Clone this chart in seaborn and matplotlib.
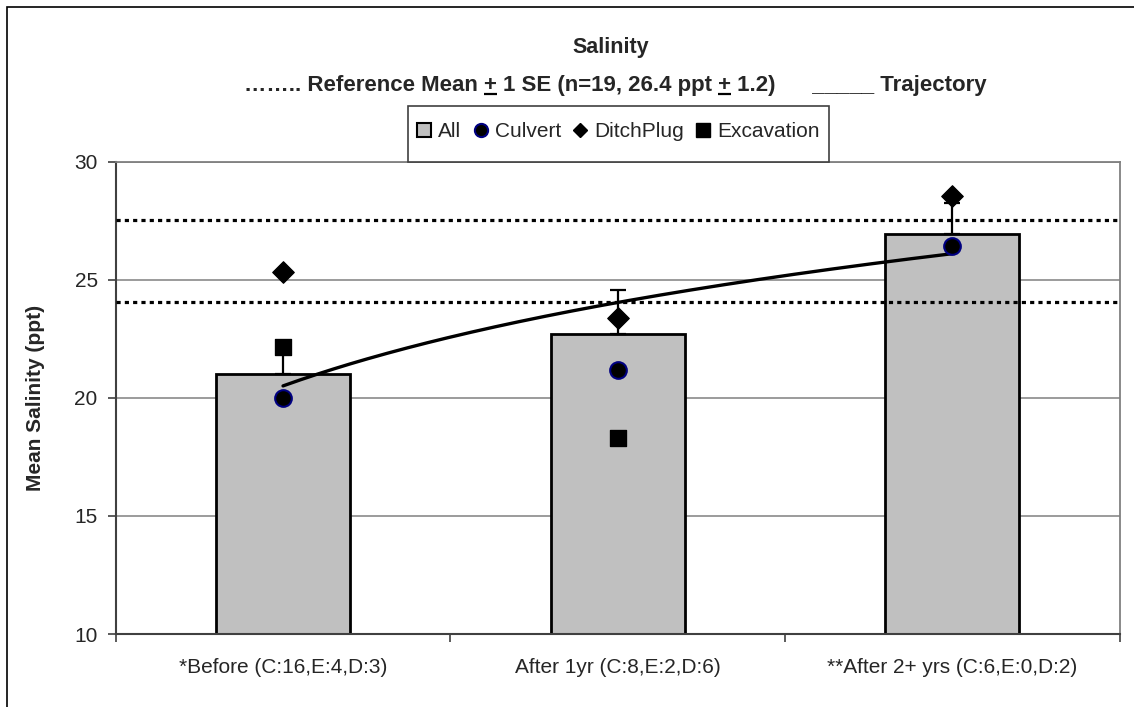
import numpy as np
import pandas as pd
import matplotlib
matplotlib.use("Agg")
import matplotlib.pyplot as plt
import seaborn as sns
from matplotlib.lines import Line2D
from matplotlib.patches import Patch, Rectangle

# ---------------- data ----------------
categories = ["*Before (C:16,E:4,D:3)", "After 1yr (C:8,E:2,D:6)", "**After 2+ yrs (C:6,E:0,D:2)"]
all_mean = [21.0, 22.7, 26.95]
all_se = [1.1, 1.85, 1.3]
culvert = [20.0, 21.2, 26.45]
ditchplug = [25.35, 23.4, 28.55]
excavation = [22.15, 18.3, np.nan]
ref_upper = 27.55
ref_lower = 24.05
y_ticks = [10, 15, 20, 25, 30]

# ---------------- style ----------------
sns.set_style("white")
plt.rcParams["font.family"] = ["Liberation Sans", "DejaVu Sans"]

W, H = 1134, 707
fig = plt.figure(figsize=(W / 100, H / 100), dpi=100)
ax = fig.add_axes([115.7 / W, 1 - 634 / H, (1119.7 - 115.7) / W, (634 - 161.7) / H])

df = pd.DataFrame({"cat": categories, "all": all_mean, "se": all_se,
                   "Culvert": culvert, "DitchPlug": ditchplug, "Excavation": excavation})
pos = np.arange(len(categories))

# bars
sns.barplot(data=df, x="cat", y="all", color="#C0C0C0", saturation=1, width=0.4,
            edgecolor="black", linewidth=2, ax=ax, zorder=2)

# upper error bars only
ax.errorbar(pos, df["all"], yerr=[np.zeros(len(pos)), df["se"]], fmt="none",
            ecolor="black", elinewidth=1.6, capsize=5.5, capthick=1.6, zorder=3)

# reference mean +/- SE lines
for yv in (ref_upper, ref_lower):
    ax.axhline(yv, color="black", lw=2.3, ls=(0, (1.3, 1.3)), dash_capstyle="butt", zorder=3.5)

# trajectory: logarithmic trendline of the bar means (as in the original chart)
coef = np.polyfit(np.log(pos + 1), df["all"], 1)
xs = np.linspace(1, len(pos), 200)
ax.plot(xs - 1, coef[0] * np.log(xs) + coef[1], color="black", lw=2.4, zorder=4)

# group markers
sns.scatterplot(x=pos, y=df["DitchPlug"], marker="D", s=120, color="black",
                edgecolor="black", ax=ax, zorder=5, legend=False)
sns.scatterplot(x=pos, y=df["Excavation"], marker="s", s=144, color="black",
                edgecolor="black", ax=ax, zorder=5, legend=False)
sns.scatterplot(x=pos, y=df["Culvert"], marker="o", s=144, color="black",
                edgecolor="#000080", linewidth=1.5, ax=ax, zorder=6, legend=False)

# axes formatting
ax.set_xlim(-0.5, len(pos) - 0.5)
ax.set_ylim(10, 30)
ax.set_yticks(y_ticks)
ax.set_yticklabels([str(t) for t in y_ticks], fontsize=15)
ax.set_xticks(pos)
ax.set_xticklabels(categories, fontsize=15)
ax.set_xticks(np.arange(-0.5, len(pos), 1.0), minor=True)
ax.tick_params(axis="x", which="major", length=0, pad=17)
ax.tick_params(axis="x", which="minor", length=6, width=1.2, color="#404040", direction="out", bottom=True)
ax.tick_params(axis="y", which="major", length=6, width=1.2, color="#404040", direction="out", left=True, pad=7)
ax.set_xlabel("")
ax.set_ylabel("Mean Salinity (ppt)", fontsize=15, fontweight="bold")
ax.yaxis.set_label_coords((45 - 115.7) / (1119.7 - 115.7), 0.5)

ax.grid(axis="y", color="#808080", lw=1.1)
ax.grid(axis="x", visible=False)
ax.set_axisbelow(True)
for side in ("left", "bottom"):
    ax.spines[side].set_color("#404040")
    ax.spines[side].set_linewidth(1.5)
for side in ("top", "right"):
    ax.spines[side].set_color("#808080")
    ax.spines[side].set_linewidth(1.3)

# titles
fig.text(611 / W, 1 - 47 / H, "Salinity", ha="center", va="center", fontsize=15.5, fontweight="bold")

sub_fs = 16
sub_cx, sub_base = 615, 90.5
part1 = "…….. Reference Mean +"
part2 = " 1 SE (n=19, 26.4 ppt +"
part3 = " 1.2)      _____ Trajectory"
full = part1 + part2 + part3
fig.text(sub_cx / W, 1 - sub_base / H, full, ha="center", va="baseline",
         fontsize=sub_fs, fontweight="bold")

# underline the two "+" signs (they stand for plus/minus in the original)
renderer = fig.canvas.get_renderer()


def text_width(s):
    t = fig.text(0, 0, s, fontsize=sub_fs, fontweight="bold")
    w = t.get_window_extent(renderer).width
    t.remove()
    return w


w_full = text_width(full)
w_plus = text_width("+")
x0 = sub_cx - w_full / 2
for prefix in (part1, part1 + part2):
    x_end = x0 + text_width(prefix)
    x_start = x_end - w_plus
    y_line = 1 - (sub_base + 3.5) / H
    fig.add_artist(Line2D([x_start / W, x_end / W], [y_line, y_line], transform=fig.transFigure,
                          color="black", lw=1.6, solid_capstyle="butt"))

# legend
handles = [
    Patch(facecolor="#C0C0C0", edgecolor="black", linewidth=1.5, label="All"),
    Line2D([], [], ls="", marker="o", mfc="black", mec="#000080", mew=1.5, ms=9.5, label="Culvert"),
    Line2D([], [], ls="", marker="D", mfc="black", mec="black", ms=7.5, label="DitchPlug"),
    Line2D([], [], ls="", marker="s", mfc="black", mec="black", ms=9.5, label="Excavation"),
]
fig.legend(handles=handles, loc="center", bbox_to_anchor=((408 + 829) / 2 / W, 1 - 131.7 / H),
           ncol=4, frameon=False, fontsize=15, handlelength=0.67, handleheight=0.67,
           handletextpad=0.33, columnspacing=0.6, borderpad=0.2)
fig.patches.append(Rectangle((407.7 / W, 1 - 161.7 / H), (829 - 407.7) / W, (161.7 - 106) / H,
                             transform=fig.transFigure, fill=True, facecolor="white",
                             edgecolor="#404040", lw=1.2, zorder=0))

# outer chart frame (extends past the cropped right/bottom edges)
fig.patches.append(Rectangle((7 / W, -0.05), 1.2, 1 - 7 / H + 0.05, transform=fig.transFigure,
                             fill=False, edgecolor="black", lw=1.2, zorder=0))

fig.savefig("out.png", dpi=100)
